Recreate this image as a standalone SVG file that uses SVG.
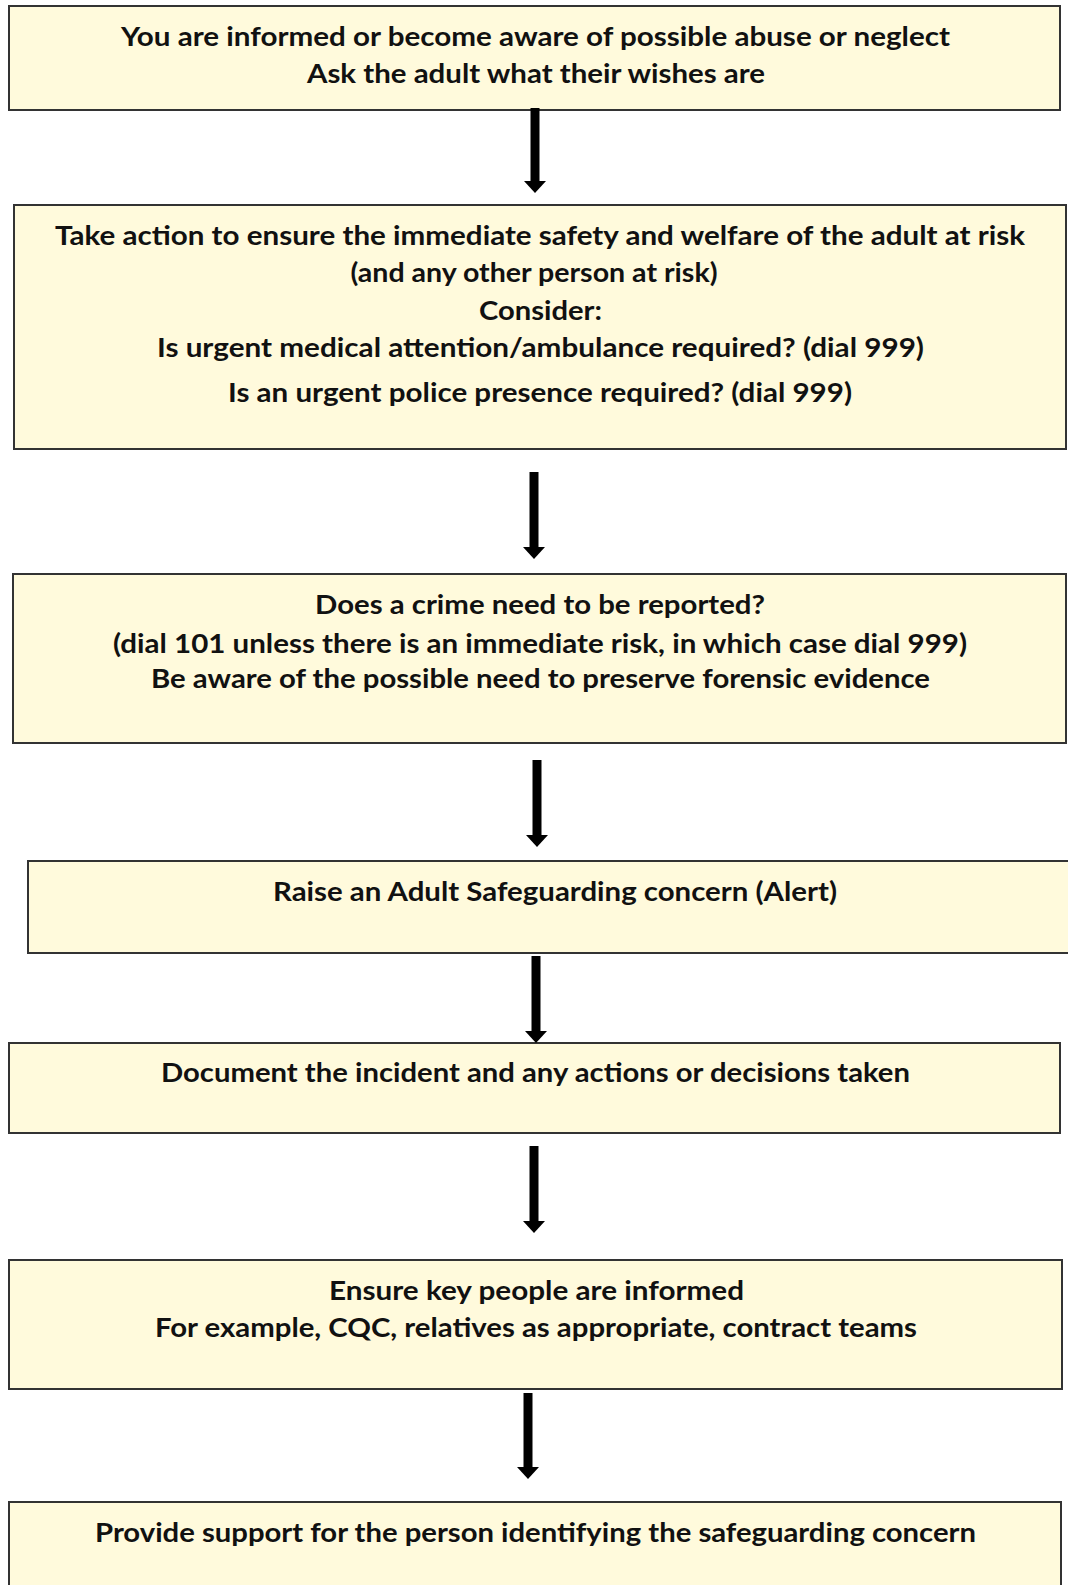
<svg xmlns="http://www.w3.org/2000/svg" width="1068" height="1585" viewBox="0 0 1068 1585">
<style>
.box{fill:#FFFADC;stroke:#333333;stroke-width:2}
.t{font-family:Lato,"Liberation Sans",sans-serif;font-weight:bold;font-size:27px;fill:#111111;text-anchor:middle}
.arr{stroke:#000000;stroke-width:9;fill:none}
</style>
<defs>
<marker id="ah" markerUnits="userSpaceOnUse" markerWidth="12" markerHeight="22" viewBox="0 0 12 22" refX="0" refY="11" orient="auto">
<path d="M0,0 L12,11 L0,22 z" fill="#000000"/>
</marker>
</defs>
<rect x="0" y="0" width="1068" height="1585" fill="#FFFFFF"/>
<g id="n1">
<rect class="box" x="9" y="6" width="1051" height="104"/>
<text class="t" x="535.5" y="46" textLength="829" lengthAdjust="spacingAndGlyphs">You are informed or become aware of possible abuse or neglect</text>
<text class="t" x="536" y="83" textLength="458" lengthAdjust="spacingAndGlyphs">Ask the adult what their wishes are</text>
</g>
<g id="n2">
<rect class="box" x="14" y="205" width="1052" height="244"/>
<text class="t" x="540" y="245" textLength="970" lengthAdjust="spacingAndGlyphs">Take action to ensure the immediate safety and welfare of the adult at risk</text>
<text class="t" x="534" y="282" textLength="367" lengthAdjust="spacingAndGlyphs">(and any other person at risk)</text>
<text class="t" x="540.5" y="320" textLength="123" lengthAdjust="spacingAndGlyphs">Consider:</text>
<text class="t" x="540.5" y="357" textLength="767" lengthAdjust="spacingAndGlyphs">Is urgent medical attention/ambulance required? (dial 999)</text>
<text class="t" x="540" y="402" textLength="624" lengthAdjust="spacingAndGlyphs">Is an urgent police presence required? (dial 999)</text>
</g>
<g id="n3">
<rect class="box" x="13" y="574" width="1053" height="169"/>
<text class="t" x="540" y="614" textLength="450" lengthAdjust="spacingAndGlyphs">Does a crime need to be reported?</text>
<text class="t" x="540" y="653" textLength="854" lengthAdjust="spacingAndGlyphs">(dial 101 unless there is an immediate risk, in which case dial 999)</text>
<text class="t" x="540.5" y="688" textLength="779" lengthAdjust="spacingAndGlyphs">Be aware of the possible need to preserve forensic evidence</text>
</g>
<g id="n4">
<rect class="box" x="28" y="861" width="1060" height="92"/>
<text class="t" x="555" y="901" textLength="564" lengthAdjust="spacingAndGlyphs">Raise an Adult Safeguarding concern (Alert)</text>
</g>
<g id="n5">
<rect class="box" x="9" y="1043" width="1051" height="90"/>
<text class="t" x="535.5" y="1082" textLength="749" lengthAdjust="spacingAndGlyphs">Document the incident and any actions or decisions taken</text>
</g>
<g id="n6">
<rect class="box" x="9" y="1260" width="1053" height="129"/>
<text class="t" x="536.5" y="1300" textLength="415" lengthAdjust="spacingAndGlyphs">Ensure key people are informed</text>
<text class="t" x="536" y="1337" textLength="762" lengthAdjust="spacingAndGlyphs">For example, CQC, relatives as appropriate, contract teams</text>
</g>
<g id="n7">
<rect class="box" x="9" y="1502" width="1052" height="100"/>
<text class="t" x="535.5" y="1542" textLength="881" lengthAdjust="spacingAndGlyphs">Provide support for the person identifying the safeguarding concern</text>
</g>
<g id="connectors">
<line class="arr" x1="535" y1="108" x2="535" y2="181" marker-end="url(#ah)"/>
<line class="arr" x1="534" y1="472" x2="534" y2="547" marker-end="url(#ah)"/>
<line class="arr" x1="537" y1="760" x2="537" y2="835" marker-end="url(#ah)"/>
<line class="arr" x1="536" y1="956" x2="536" y2="1031" marker-end="url(#ah)"/>
<line class="arr" x1="534" y1="1146" x2="534" y2="1221" marker-end="url(#ah)"/>
<line class="arr" x1="528" y1="1393" x2="528" y2="1467" marker-end="url(#ah)"/>
</g>
</svg>
